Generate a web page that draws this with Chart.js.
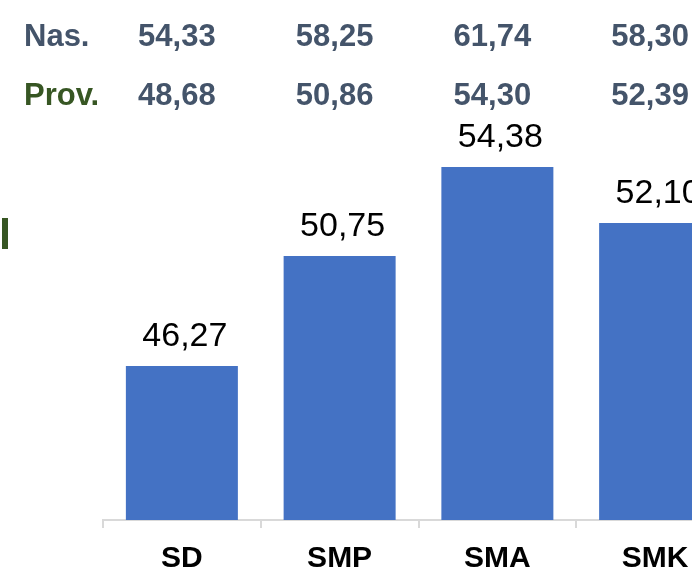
<!DOCTYPE html>
<html>
<head>
<meta charset="utf-8">
<script src="https://cdn.jsdelivr.net/npm/chart.js@4"></script>
<style>
  html, body { margin: 0; padding: 0; background: #fff; overflow: hidden; width: 692px; height: 572px; }
  #wrap { position: relative; width: 740px; height: 572px; }
  #mark { position: absolute; left: 2px; top: 218px; width: 6px; height: 31px; background: #375623; }
</style>
</head>
<body>
<div id="wrap">
  <canvas id="c" width="740" height="572"></canvas>
  <div id="mark"></div>
</div>
<script>
const categories = ['SD', 'SMP', 'SMA', 'SMK'];
const values = [46.27, 50.75, 54.38, 52.10];
const nasLabel = 'Nas.';
const provLabel = 'Prov.';
const nasValues = [54.33, 58.25, 61.74, 58.30];
const provValues = [48.68, 50.86, 54.30, 52.39];

const fmt = v => v.toFixed(2).replace('.', ',');

const labelPlugin = {
  id: 'labels',
  afterDatasetsDraw(chart) {
    const ctx = chart.ctx;
    const meta = chart.getDatasetMeta(0);
    const xs = chart.scales.x;
    ctx.save();
    // bar value labels
    ctx.font = '34px "Liberation Sans", Arial, sans-serif';
    ctx.fillStyle = '#000';
    ctx.textAlign = 'center';
    ctx.textBaseline = 'alphabetic';
    meta.data.forEach((bar, i) => {
      ctx.fillText(fmt(values[i]), bar.x + 3, bar.y - 20);
    });
    // header rows
    ctx.font = 'bold 31px "Liberation Sans", Arial, sans-serif';
    ctx.textAlign = 'left';
    ctx.fillStyle = '#44546A';
    ctx.fillText(nasLabel, 24, 46);
    ctx.fillStyle = '#375623';
    ctx.fillText(provLabel, 24, 105);
    ctx.textAlign = 'center';
    ctx.fillStyle = '#44546A';
    categories.forEach((c, i) => {
      const x = xs.getPixelForValue(i) - 5;
      ctx.fillText(fmt(nasValues[i]), x, 46);
      ctx.fillText(fmt(provValues[i]), x, 105);
    });
    ctx.restore();
  }
};

new Chart(document.getElementById('c'), {
  type: 'bar',
  data: {
    labels: categories,
    datasets: [{
      data: values,
      backgroundColor: '#4472C4',
      borderWidth: 0,
      barPercentage: 0.71,
      categoryPercentage: 1.0
    }]
  },
  options: {
    responsive: false,
    animation: false,
    devicePixelRatio: 1,
    layout: { padding: { left: 103, right: 6, top: 29, bottom: 0 } },
    plugins: { legend: { display: false }, tooltip: { enabled: false } },
    scales: {
      y: { display: false, min: 40, max: 60 },
      x: {
        offset: true,
        afterFit: s => { s.height = 52; },
        grid: { display: true, drawOnChartArea: false, drawTicks: true, tickLength: 8, color: '#d9d9d9', lineWidth: 2, offset: true },
        border: { display: true, color: '#d9d9d9', width: 2 },
        ticks: {
          color: '#000',
          padding: 13,
          font: { family: '"Liberation Sans", Arial, sans-serif', size: 30, weight: 'bold' }
        }
      }
    }
  },
  plugins: [labelPlugin]
});
</script>
</body>
</html>
